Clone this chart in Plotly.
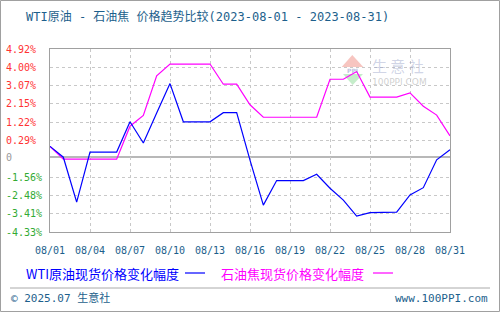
import plotly.graph_objects as go

# ---------------- data ----------------
dates = [f"2023-08-{d:02d}" for d in range(1, 32)]
tick_dates = ["2023-08-01", "2023-08-04", "2023-08-07", "2023-08-10", "2023-08-13", "2023-08-16",
              "2023-08-19", "2023-08-22", "2023-08-25", "2023-08-28", "2023-08-31"]
tick_text = ["08/01", "08/04", "08/07", "08/10", "08/13", "08/16",
             "08/19", "08/22", "08/25", "08/28", "08/31"]

wti = [0.00, -0.55, -2.82, -0.29, -0.29, -0.29, 1.24, 0.17, 1.68, 3.17,
       1.24, 1.24, 1.24, 1.70, 1.70, -0.70, -2.97, -1.73, -1.73, -1.73,
       -1.41, -2.12, -2.72, -3.53, -3.35, -3.34, -3.33, -2.46, -2.09, -0.68, -0.17]
petcoke = [0.00, -0.65, -0.65, -0.65, -0.65, -0.65, 1.02, 1.56, 3.56, 4.16,
           4.16, 4.16, 4.16, 3.14, 3.14, 2.10, 1.47, 1.47, 1.47, 1.47,
           1.47, 3.39, 3.39, 3.78, 2.49, 2.49, 2.49, 2.70, 2.03, 1.58, 0.53]

y_grid = [4.92, 3.995, 3.07, 2.145, 1.22, 0.295, -1.555, -2.48, -3.405, -4.33]
y_labels = ["4.92%", "4.00%", "3.07%", "2.15%", "1.22%", "0.29%", "0", "-1.56%", "-2.48%", "-3.41%", "-4.33%"]
y_label_vals = [4.92, 3.995, 3.07, 2.145, 1.22, 0.295, -0.54, -1.555, -2.48, -3.405, -4.33]
ZERO_LINE = -0.54
Y_MIN, Y_MAX = -4.33, 4.92

title_text = "WTI原油 - 石油焦 价格趋势比较(2023-08-01 - 2023-08-31)"
legend_wti = "WTI原油现货价格变化幅度"
legend_pc = "石油焦现货价格变化幅度"

# ---------------- layout helpers ----------------
W, H = 500, 312
L, R, T, B = 50, 50, 49, 80
PW, PH = W - L - R, H - T - B
MONO = "DejaVu Sans Mono, Noto Sans CJK SC, sans-serif"
CJK = "Noto Sans CJK SC, DejaVu Sans, sans-serif"
TEAL = "#1d5f8c"


def px(x):
    return (x - L) / PW


def py(y):
    return (H - B - y) / PH


fig = go.Figure()
fig.add_trace(go.Scatter(x=dates, y=petcoke, mode="lines",
                         line=dict(color="#ff00ff", width=1.2), hoverinfo="skip"))
fig.add_trace(go.Scatter(x=dates, y=wti, mode="lines",
                         line=dict(color="#0000ff", width=1.2), hoverinfo="skip"))

annotations = []
# y labels
for lab, v in zip(y_labels, y_label_vals):
    if lab == "0":
        col = "#999999"
    elif lab.startswith("-"):
        col = "#33aa33"
    else:
        col = "#ff3333"
    annotations.append(dict(x=px(4), y=v, xref="paper", yref="y", text=lab, showarrow=False,
                            xanchor="left", yanchor="middle",
                            font=dict(family=MONO, size=10, color=col)))
# title
annotations.append(dict(x=px(24), y=py(16), xref="paper", yref="paper", text=title_text,
                        showarrow=False, xanchor="left", yanchor="middle",
                        font=dict(family=MONO, size=12, color=TEAL)))
# legend
annotations.append(dict(x=px(24), y=py(273), xref="paper", yref="paper", text=legend_wti,
                        showarrow=False, xanchor="left", yanchor="middle",
                        font=dict(family=CJK, size=13, color="#0000ff")))
annotations.append(dict(x=px(219), y=py(273), xref="paper", yref="paper", text=legend_pc,
                        showarrow=False, xanchor="left", yanchor="middle",
                        font=dict(family=CJK, size=13, color="#ff00ff")))
# footer
annotations.append(dict(x=px(9), y=py(298), xref="paper", yref="paper", text="© 2025.07 生意社",
                        showarrow=False, xanchor="left", yanchor="middle",
                        font=dict(family=MONO, size=11, color=TEAL)))
annotations.append(dict(x=px(490), y=py(298), xref="paper", yref="paper", text="www.100PPI.com",
                        showarrow=False, xanchor="right", yanchor="middle",
                        font=dict(family=MONO, size=11, color=TEAL)))
# watermark
annotations.append(dict(x=px(371), y=py(65), xref="paper", yref="paper", text="生 意 社",
                        showarrow=False, xanchor="left", yanchor="middle", borderpad=0,
                        font=dict(family=CJK, size=15, color="rgba(150,160,200,0.45)")))
annotations.append(dict(x=px(371), y=py(82), xref="paper", yref="paper", text="100PPI.COM",
                        showarrow=False, xanchor="left", yanchor="middle", borderpad=0,
                        font=dict(family="DejaVu Sans, sans-serif", size=9, color="rgba(160,160,160,0.5)")))
annotations.append(dict(x=px(352.5), y=py(70.5), xref="paper", yref="paper", text="<b>PPI</b>",
                        showarrow=False, xanchor="center", yanchor="middle", borderpad=0,
                        font=dict(family="DejaVu Sans, sans-serif", size=6, color="rgba(120,130,190,0.5)")))

shapes = []
# zero line
shapes.append(dict(type="line", xref="paper", yref="y", x0=0, x1=1, y0=ZERO_LINE, y1=ZERO_LINE,
                   line=dict(color="#a0a0a0", width=1.5), layer="below"))
# legend line samples
shapes.append(dict(type="line", xref="paper", yref="paper", x0=px(185), x1=px(205), y0=py(273), y1=py(273),
                   line=dict(color="#0000ff", width=1.2)))
shapes.append(dict(type="line", xref="paper", yref="paper", x0=px(373), x1=px(393), y0=py(273), y1=py(273),
                   line=dict(color="#ff00ff", width=1.2)))
# footer separator
shapes.append(dict(type="line", xref="paper", yref="paper", x0=px(10), x1=px(490), y0=py(288), y1=py(288),
                   line=dict(color="#aaaaaa", width=1)))
# outer border
shapes.append(dict(type="rect", xref="paper", yref="paper", x0=px(0.5), x1=px(499.5), y0=py(311.5), y1=py(0.5),
                   line=dict(color="#a0a0a0", width=1)))
# watermark logo triangles
shapes.append(dict(type="path", xref="paper", yref="paper",
                   path=f"M {px(352.3)} {py(55)} L {px(363.3)} {py(67)} L {px(341.7)} {py(67)} Z",
                   fillcolor="rgba(240,140,130,0.5)", line=dict(width=0), layer="below"))
shapes.append(dict(type="path", xref="paper", yref="paper",
                   path=f"M {px(343)} {py(74)} L {px(363)} {py(74)} L {px(352.7)} {py(85)} Z",
                   fillcolor="rgba(140,220,150,0.5)", line=dict(width=0), layer="below"))

fig.update_layout(
    width=W, height=H,
    margin=dict(l=L, r=R, t=T, b=B),
    paper_bgcolor="white", plot_bgcolor="white",
    showlegend=False,
    annotations=annotations,
    shapes=shapes,
    xaxis=dict(type="date", range=[dates[0], dates[-1]], tickvals=tick_dates, ticktext=tick_text,
               showgrid=True, gridcolor="#c8c8c8", griddash="3px,3px", gridwidth=1,
               showline=True, mirror=True, linecolor="#a0a0a0", linewidth=1,
               ticks="", ticklabelstandoff=9,
               tickfont=dict(family=MONO, size=10, color=TEAL), zeroline=False, fixedrange=True),
    yaxis=dict(range=[Y_MIN, Y_MAX], tickvals=y_grid, showticklabels=False,
               showgrid=True, gridcolor="#c8c8c8", griddash="3px,3px", gridwidth=1,
               showline=True, mirror=True, linecolor="#a0a0a0", linewidth=1,
               ticks="", zeroline=False, fixedrange=True),
)

fig.write_html("out.html")
